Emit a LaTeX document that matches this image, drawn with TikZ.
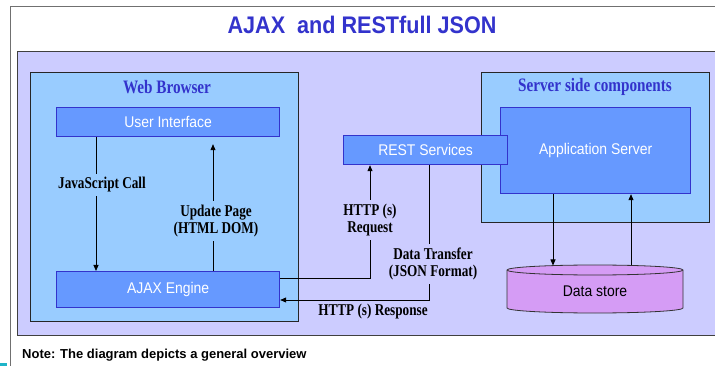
\documentclass[tikz,border=0pt]{standalone}
\usepackage{fontspec}
\setmainfont{Liberation Serif}
\newfontfamily\lblfont[FakeStretch=0.8]{Liberation Serif}
\newfontfamily\boxfont[FakeStretch=0.9]{Liberation Sans}
\newfontfamily\notefont{Liberation Sans}
\usetikzlibrary{arrows.meta}

\definecolor{panel}{HTML}{CCCCFF}
\definecolor{zone}{HTML}{99CCFF}
\definecolor{comp}{HTML}{6699FF}
\definecolor{compedge}{HTML}{3333CC}
\definecolor{headblue}{HTML}{3333CC}
\definecolor{store}{HTML}{D59CF5}
\definecolor{framegray}{HTML}{707070}
\definecolor{accent}{HTML}{1EB4C8}

\tikzset{
  compbox/.style={draw=compedge, line width=1.2pt, fill=comp, text=white,
    font=\boxfont\fontsize{15.5}{17}\selectfont, inner sep=0pt, anchor=north west},
  zonebox/.style={draw=black!85, line width=0.9pt, fill=zone, inner sep=0pt, anchor=north west},
  headtext/.style={text=headblue, font=\lblfont\bfseries\fontsize{19}{21}\selectfont},
  lbl/.style={font=\lblfont\bfseries\fontsize{16.5}{16.5}\selectfont, align=center,
    inner xsep=2pt, inner ysep=4pt},
  arr/.style={line width=0.8pt, -{Triangle[length=6pt,width=5pt]}}
}

\begin{document}
\begin{tikzpicture}[x=1pt, y=-1pt]
\useasboundingbox (0,0) rectangle (715,366);
\clip (0,0) rectangle (715,366);

% slide frame and title
\draw[framegray, line width=1pt] (716,7) -- (10.5,7) -- (10.5,367);
\node[text=headblue, font=\boxfont\bfseries\fontsize{24}{26}\selectfont] (title) at (362,25) {AJAX~~and RESTfull JSON};

% lavender backdrop
\draw[draw=black!75, line width=0.9pt, fill=panel] (17,51) rectangle (720,335);

% browser side
\node[zonebox, minimum width=268pt, minimum height=249pt] (wb) at (30,72) {};
\node[headtext] (wbtitle) at (167,87) {Web Browser};
\node[compbox, minimum width=223pt, minimum height=29pt] (ui) at (56,107) {User Interface};
\node[compbox, minimum width=223pt, minimum height=36pt] (aj) at (56,271) {AJAX Engine};

% server side
\node[zonebox, minimum width=228pt, minimum height=150pt] (srv) at (481,72) {};
\node[headtext] (srvtitle) at (595,87) {Server side components};
\node[compbox, minimum width=190pt, minimum height=86pt] (app) at (500,107) {Application Server};
\node[compbox, minimum width=164pt, minimum height=29pt] (rest) at (343,135) {REST Services};

% data store cylinder
\filldraw[fill=store, draw=black!80, line width=0.8pt]
  (507,270) -- (507,308) arc[start angle=180, end angle=360, x radius=88pt, y radius=5pt]
  -- (683,270) arc[start angle=0, end angle=180, x radius=88pt, y radius=5pt] -- cycle;
\draw[black!80, line width=0.8pt] (683,270) arc[start angle=0, end angle=-180, x radius=88pt, y radius=5pt];
\coordinate (dstop) at (595,265.5);
\node[font=\boxfont\fontsize{15.5}{17}\selectfont] (ds) at (595,291) {Data store};

% connector columns
\coordinate (jsx) at (96,0);
\coordinate (upx) at (213,0);
\coordinate (rq) at (370,278);
\coordinate (rs) at (429,300);
\coordinate (d1) at (553,0);
\coordinate (d2) at (631,0);

% browser internal calls
\draw[arr] (ui.south -| jsx) -- (aj.north -| jsx);
\node[lbl, fill=zone] (jslbl) at (102,185) {JavaScript Call};
\draw[arr, shorten >=7pt] (aj.north -| upx) -- (ui.south -| upx);
\node[lbl, fill=zone] (uplbl) at (216,221) {Update Page\\(HTML DOM)};

% HTTP request / response
\draw[arr] (aj.east |- rq) -- (rq) -- (rest.south -| rq);
\node[lbl, fill=panel] (rqlbl) at (370,220) {HTTP (s)\\Request};
\draw[arr] (rest.south -| rs) -- (rs) -- (aj.east |- rs);
\node[lbl, fill=panel] (rslbl) at (433,264) {Data Transfer\\(JSON Format)};
\node[lbl] (resp) at (373,312) {HTTP (s) Response};

% application server <-> data store
\draw[arr] (app.south -| d1) -- (dstop -| d1);
\draw[arr] (dstop -| d2) -- (app.south -| d2);

% footnote
\node[anchor=base west, inner sep=0pt, font=\notefont\bfseries\fontsize{13}{15}\selectfont] (note) at (22,358) {Note: The diagram depicts a general overview};
\fill[accent] (0,362.5) rectangle (7,367);
\end{tikzpicture}
\end{document}
